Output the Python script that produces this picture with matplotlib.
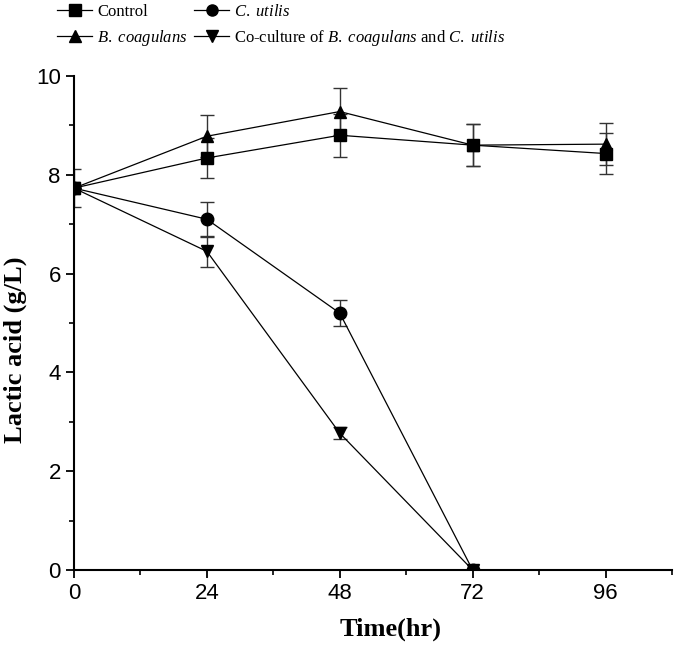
import numpy as np
import matplotlib
matplotlib.use('Agg')
import matplotlib.pyplot as plt
from matplotlib.ticker import MultipleLocator
from matplotlib.lines import Line2D
from matplotlib import font_manager

plt.rcParams['mathtext.fontset'] = 'custom'
plt.rcParams['mathtext.rm'] = 'Liberation Serif'
plt.rcParams['mathtext.it'] = 'Liberation Serif:italic'

names = set(f.name for f in font_manager.fontManager.ttflist)
tick_font = 'Liberation Sans Narrow' if 'Liberation Sans Narrow' in names else 'Liberation Sans'

# time points (hr)
t = [0, 24, 48, 72, 96]
t_short = [0, 24, 48, 72]

control = [7.73, 8.34, 8.80, 8.60, 8.43]
control_err = [0.38, 0.41, 0.44, 0.43, 0.42]

bcoag = [7.73, 8.78, 9.28, 8.60, 8.62]
bcoag_err = [0.0, 0.43, 0.47, 0.43, 0.43]

cutilis = [7.73, 7.10, 5.20, 0.0]
cutilis_err = [0.0, 0.35, 0.26, 0.0]

cocult = [7.73, 6.45, 2.77, 0.0]
cocult_err = [0.0, 0.32, 0.12, 0.0]

labels = ['Control', r'$\mathit{C.\ utilis}$', r'$\mathit{B.\ coagulans}$',
          'Co-culture of ' + r'$\mathit{B.\ coagulans}$' + ' and ' + r'$\mathit{C.\ utilis}$']
markers = ['s', 'o', '^', 'v']

fig = plt.figure(figsize=(6.85, 6.46), dpi=100)
ax = fig.add_axes([0.108, 0.1176, 0.873, 0.7648])

kw = dict(color='black', lw=0.9, ms=9, ecolor='#333333', elinewidth=1.0, capsize=5, capthick=1.0)
ax.errorbar(t, control, yerr=control_err, marker='s', **kw)
ax.errorbar(t, bcoag, yerr=bcoag_err, marker='^', **kw)
ax.errorbar(t_short, cocult, yerr=cocult_err, marker='v', **kw)
ax.errorbar(t_short, cutilis, yerr=cutilis_err, marker='o', **kw)

ax.set_xlim(0, 108)
ax.set_ylim(0, 10)
ax.set_xticks([0, 24, 48, 72, 96])
ax.xaxis.set_minor_locator(MultipleLocator(12))
ax.yaxis.set_major_locator(MultipleLocator(2))
ax.yaxis.set_minor_locator(MultipleLocator(1))
ax.spines['top'].set_visible(False)
ax.spines['right'].set_visible(False)
ax.spines['left'].set_linewidth(1.5)
ax.spines['bottom'].set_linewidth(1.5)
ax.tick_params(which='major', direction='out', length=6, width=1.3, labelsize=16)
ax.tick_params(which='minor', direction='out', length=3.5, width=1.2)
for lab in ax.get_xticklabels() + ax.get_yticklabels():
    lab.set_fontfamily(tick_font)

ax.set_xlabel('Time(hr)', fontsize=19, fontweight='bold', family='Liberation Serif')
ax.set_ylabel('Lactic acid (g/L)', fontsize=19, fontweight='bold', family='Liberation Serif')
ax.xaxis.set_label_coords(0.53, -0.097)
ax.yaxis.set_label_coords(-0.079, 0.445)

# legend filled column-wise, so order handles to read row by row
order = [0, 2, 1, 3]
handles = [Line2D([], [], color='black', lw=0.9, marker=markers[i], ms=8) for i in order]
fig.legend(handles, [labels[i] for i in order], loc='upper left',
           bbox_to_anchor=(0.081, 0.996), ncol=2, frameon=False,
           prop={'family': 'Liberation Serif', 'size': 12},
           handlelength=2.1, handletextpad=0.3, columnspacing=0.4, labelspacing=0.45,
           borderpad=0.1, borderaxespad=0)

fig.savefig('out.png', dpi=100)
